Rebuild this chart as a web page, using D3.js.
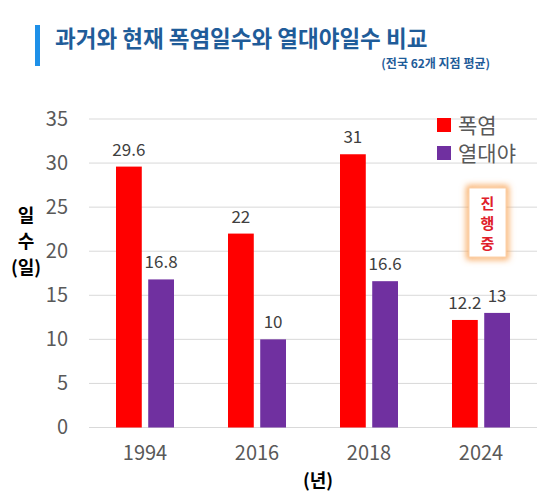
<!DOCTYPE html>
<html><head><meta charset="utf-8">
<script src="https://cdn.jsdelivr.net/npm/d3@7"></script>
<style>body{margin:0;background:#fff;}svg{display:block;font-family:"Noto Sans CJK KR","Noto Sans",sans-serif;}</style>
</head><body>
<script>
const years = ["1994","2016","2018","2024"];
const heatwave = [29.6, 22, 31, 12.2];
const tropical = [16.8, 10, 16.6, 13];
const seriesNames = ["폭염","열대야"];
const yTicks = [0,5,10,15,20,25,30,35];

const W=560,H=499;
const svg=d3.select("body").append("svg").attr("width",W).attr("height",H);
const colors=["#ff0000","#7030a0"];

// title
svg.append("rect").attr("x",35).attr("y",25).attr("width",5).attr("height",41).attr("fill","#1e90e8");
svg.append("text").attr("x",55).attr("y",47).attr("font-size",22.5).attr("font-weight","bold").attr("fill","#1f5c99").text("과거와 현재 폭염일수와 열대야일수 비교");
svg.append("text").attr("x",490).attr("y",68).attr("text-anchor","end").attr("font-size",12).attr("font-weight","bold").attr("fill","#1f5c99").text("(전국 62개 지점 평균)");

const x=d3.scaleBand().domain(years).range([89,537]);
const y=d3.scaleLinear().domain([0,35]).range([427.5,119]);
const inner=d3.scaleBand().domain([0,1]).range([0,58]).paddingInner(0.2);

// grid
svg.append("g").selectAll("line").data(yTicks).join("line")
 .attr("x1",89).attr("x2",537).attr("y1",d=>y(d)).attr("y2",d=>y(d))
 .attr("stroke","#d9d9d9").attr("stroke-width",1);

const yAxis=d3.axisLeft(y).tickValues(yTicks).tickSize(0).tickPadding(0);
const gy=svg.append("g").attr("transform","translate(68,0)").call(yAxis);
gy.select(".domain").remove();
gy.selectAll("text").attr("font-size",20).attr("fill","#595959").attr("font-family","'Noto Sans CJK KR',sans-serif");

const xAxis=d3.axisBottom(x).tickSize(0).tickPadding(0);
const gx=svg.append("g").attr("transform","translate(0,446)").call(xAxis);
gx.select(".domain").remove();
gx.selectAll("text").attr("font-size",20).attr("fill","#595959").attr("font-family","'Noto Sans CJK KR',sans-serif");

const data=[heatwave,tropical];
data.forEach((vals,si)=>{
  const g=svg.append("g");
  g.selectAll("rect").data(vals).join("rect")
   .attr("x",(d,i)=>x(years[i])+27+inner(si))
   .attr("width",inner.bandwidth())
   .attr("y",d=>y(d)).attr("height",d=>y(0)-y(d)).attr("fill",colors[si]);
  g.selectAll("text").data(vals).join("text")
   .attr("x",(d,i)=>x(years[i])+27+inner(si)+inner.bandwidth()/2)
   .attr("y",d=>y(d)-11).attr("text-anchor","middle")
   .attr("font-size",17).attr("fill","#404040").text(d=>d);
});

// legend
seriesNames.forEach((n,i)=>{
  svg.append("rect").attr("x",437).attr("y",118+i*28).attr("width",14).attr("height",14).attr("fill",colors[i]);
  svg.append("text").attr("x",458).attr("y",133+i*28).attr("font-size",21).attr("fill","#595959").text(n);
});

// in-progress box
const defs=svg.append("defs");
const f=defs.append("filter").attr("id","glow").attr("x","-50%").attr("y","-50%").attr("width","200%").attr("height","200%");
f.append("feGaussianBlur").attr("stdDeviation",3);
svg.append("rect").attr("x",469).attr("y",188).attr("width",37).attr("height",69).attr("fill","none").attr("stroke","#f8a050").attr("stroke-width",5).attr("filter","url(#glow)");
svg.append("rect").attr("x",469).attr("y",188).attr("width",37).attr("height",69).attr("fill","#fff").attr("stroke","#fcd0a8").attr("stroke-width",1);
["진","행","중"].forEach((c,i)=>{
  svg.append("text").attr("x",487.5).attr("y",209+i*20).attr("text-anchor","middle").attr("font-size",15).attr("font-weight","bold").attr("fill","#e0202a").text(c);
});

// axis titles
["일","수","(일)"].forEach((c,i)=>{
  svg.append("text").attr("x",26).attr("y",222+i*26).attr("text-anchor","middle").attr("font-size",18).attr("font-weight","bold").attr("fill","#000").text(c);
});
svg.append("text").attr("x",318).attr("y",487).attr("text-anchor","middle").attr("font-size",18).attr("font-weight","bold").attr("fill","#000").text("(년)");
</script>
</body></html>
